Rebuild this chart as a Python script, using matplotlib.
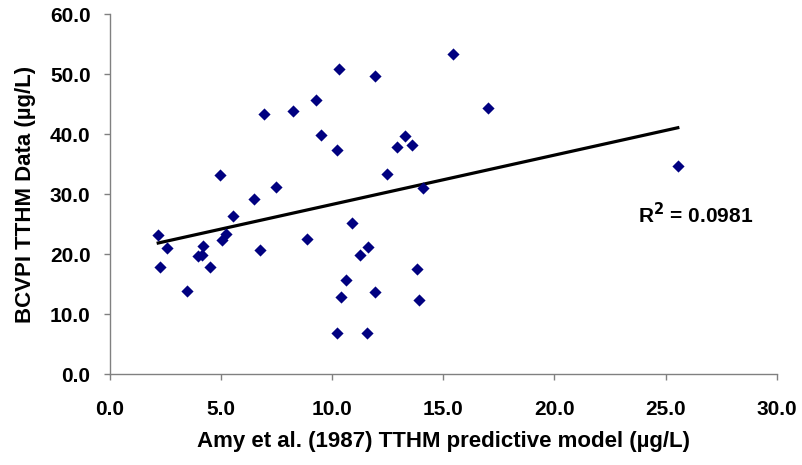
import matplotlib.pyplot as plt
import numpy as np

# Amy et al. (1987) predicted TTHM vs measured BCVPI TTHM, in ug/L
modelo = [2.17, 2.58, 2.25, 3.45, 3.95, 4.12, 4.19, 4.48, 4.97, 5.04,
          5.21, 5.54, 6.48, 6.74, 6.95, 7.46, 8.24, 8.88, 9.29, 9.51,
          10.22, 10.31, 10.22, 10.40, 10.64, 10.88, 11.25, 11.59, 11.58, 11.91,
          11.91, 12.45, 12.93, 13.26, 13.59, 13.82, 13.89, 14.07, 15.42, 17.01,
          25.55]
medido = [23.1, 21.0, 17.8, 13.9, 19.6, 19.8, 21.4, 17.8, 33.1, 22.4,
          23.4, 26.3, 29.2, 20.7, 43.4, 31.1, 43.8, 22.5, 45.6, 39.9,
          37.3, 50.8, 6.9, 12.8, 15.7, 25.2, 19.8, 21.1, 6.9, 49.7,
          13.6, 33.4, 37.9, 39.7, 38.1, 17.5, 12.4, 31.0, 53.3, 44.4,
          34.6]
r2_texto = "R$^2$ = 0.0981"

x = np.array(modelo)
y = np.array(medido)

plt.rcParams['font.family'] = ['Liberation Sans', 'DejaVu Sans']
plt.rcParams['font.weight'] = 'bold'
plt.rcParams['mathtext.default'] = 'bf'

fig = plt.figure(figsize=(8.03, 4.65), dpi=100)
ax = fig.add_axes([110 / 803, 1 - 374 / 465, (776.7 - 110) / 803, (374 - 14) / 465])

ax.scatter(x, y, marker='D', s=6.2 ** 2, color='#000080', linewidths=0, zorder=3)

# linea de tendencia
m, b = np.polyfit(x, y, 1)
xs = np.array([x.min(), x.max()])
ax.plot(xs, m * xs + b, color='black', linewidth=2.3, zorder=2)

ax.text(26.36, 25.1, r2_texto, fontsize=15, fontweight='bold', ha='center', va='baseline')

ax.set_xlim(0, 30)
ax.set_ylim(0, 60)
ax.set_xticks(np.arange(0, 31, 5))
ax.set_yticks(np.arange(0, 61, 10))
ax.set_xticklabels([f"{v:.1f}" for v in np.arange(0, 31, 5)])
ax.set_yticklabels([f"{v:.1f}" for v in np.arange(0, 61, 10)])

for s in ['top', 'right']:
    ax.spines[s].set_visible(False)
for s in ['left', 'bottom']:
    ax.spines[s].set_color('#808080')
    ax.spines[s].set_linewidth(1.0)

ax.tick_params(axis='both', direction='out', length=4.5, width=1.0, color='#808080',
               labelsize=15)
ax.tick_params(axis='x', pad=14)
ax.tick_params(axis='y', pad=9.5)

ax.set_xlabel('Amy et al. (1987) TTHM predictive model (µg/L)', fontsize=16,
              fontweight='bold', labelpad=9)
ax.set_ylabel('BCVPI TTHM Data (µg/L)', fontsize=16, fontweight='bold', labelpad=10)

fig.savefig('out.png', dpi=100)
